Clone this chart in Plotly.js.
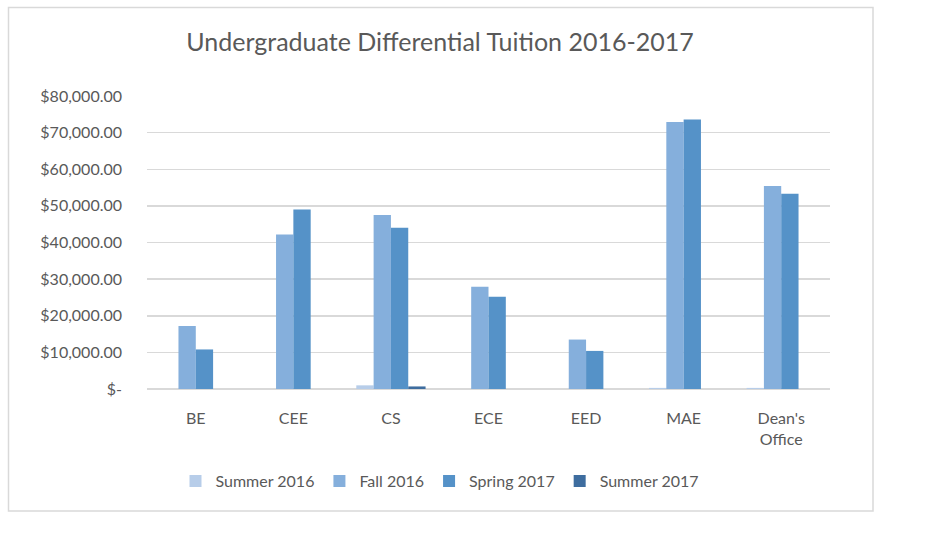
<!DOCTYPE html>
<html>
<head>
<meta charset="utf-8">
<script src="https://cdn.plot.ly/plotly-3.0.1.min.js"></script>
<style>
  html, body { margin: 0; padding: 0; background: #fff; }
  #chart { width: 933px; height: 537px; }
</style>
</head>
<body>
<div id="chart"></div>
<script>
// Departments and tuition per term
const departments = ["BE", "CEE", "CS", "ECE", "EED", "MAE", "Dean's<br>Office"];
const summer2016 = [0, 0, 1000, 0, 0, 300, 300];
const fall2016 = [17200, 42200, 47500, 27900, 13500, 72900, 55400];
const spring2017 = [10800, 49000, 44000, 25200, 10400, 73600, 53300];
const summer2017 = [0, 0, 700, 0, 0, 0, 0];

const seriesNames = ["Summer 2016", "Fall 2016", "Spring 2017", "Summer 2017"];
const seriesColors = ["#b7cde9", "#85afdc", "#5592c8", "#3e6d9f"];

const yTickVals = [0, 10000, 20000, 30000, 40000, 50000, 60000, 70000, 80000];
const yTickText = ["$-", "$10,000.00", "$20,000.00", "$30,000.00", "$40,000.00",
  "$50,000.00", "$60,000.00", "$70,000.00", "$80,000.00"];

const W = 933, H = 537;
const margin = { l: 147, r: 103, t: 96, b: 148 };
const plotW = W - margin.l - margin.r;
const plotH = H - margin.t - margin.b;

// convert pixel positions on the page to paper coords
const px = (x) => (x - margin.l) / plotW;
const py = (y) => (H - margin.b - y) / plotH;

const textColor = "#595959";
const fontFamily = "Lato, 'Open Sans', sans-serif";

const data = [summer2016, fall2016, spring2017, summer2017].map((vals, i) => ({
  type: "bar",
  name: seriesNames[i],
  x: departments,
  y: vals,
  marker: { color: seriesColors[i] },
  hoverinfo: "x+y+name",
}));

const layout = {
  width: W,
  height: H,
  margin: margin,
  paper_bgcolor: "#ffffff",
  plot_bgcolor: "#ffffff",
  font: { family: fontFamily, color: textColor, size: 16 },
  title: {
    text: "Undergraduate Differential Tuition 2016-2017",
    font: { family: fontFamily, size: 25, color: textColor },
    xref: "container",
    x: 440 / W,
    xanchor: "center",
    yref: "container",
    y: 1 - 42 / H,
    yanchor: "middle",
  },
  barmode: "group",
  bargap: 0.29,
  bargroupgap: 0,
  xaxis: {
    showgrid: false,
    showline: false,
    ticks: "",
    ticklabelstandoff: 18,
    tickfont: { size: 16, color: textColor },
  },
  yaxis: {
    range: [0, 80000],
    tickvals: yTickVals,
    ticktext: yTickText,
    showgrid: true,
    gridcolor: "#d9d9d9",
    gridwidth: 1.5,
    zeroline: true,
    zerolinecolor: "#d9d9d9",
    zerolinewidth: 1.5,
    showline: false,
    ticks: "",
    ticklabelstandoff: 24,
    tickfont: { size: 16, color: textColor },
    fixedrange: true,
  },
  showlegend: true,
  legend: {
    orientation: "h",
    x: px(440),
    xanchor: "center",
    y: py(481),
    yanchor: "middle",
    font: { size: 16, color: textColor },
    itemwidth: 30,
    traceorder: "normal",
  },
  shapes: [
    {
      type: "rect",
      xref: "paper",
      yref: "paper",
      x0: px(8.5),
      x1: px(873),
      y0: py(511),
      y1: py(7.5),
      line: { color: "#d9d9d9", width: 1.5 },
      fillcolor: "rgba(0,0,0,0)",
      layer: "below",
    },
  ],
};

Plotly.newPlot("chart", data, layout, { displayModeBar: false, staticPlot: true });
</script>
</body>
</html>
